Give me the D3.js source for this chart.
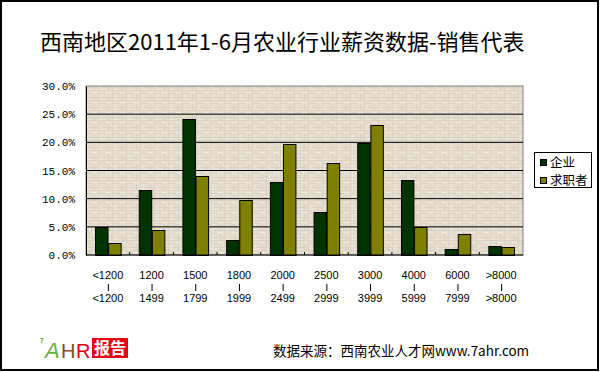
<!DOCTYPE html>
<html>
<head>
<meta charset="utf-8">
<script src="https://cdn.jsdelivr.net/npm/d3@7/dist/d3.min.js"></script>
<style>
  body { margin: 0; background: #fff; }
  svg { display: block; }
</style>
</head>
<body>
<svg id="chart" width="600" height="372"></svg>
<script>
// datos
const categories = ["<1200", "1200", "1500", "1800", "2000", "2500", "3000", "4000", "6000", ">8000"];
const catTop = ["<1200", "1200", "1500", "1800", "2000", "2500", "3000", "4000", "6000", ">8000"];
const catBottom = ["<1200", "1499", "1799", "1999", "2499", "2999", "3999", "5999", "7999", ">8000"];
const seriesNames = ["企业", "求职者"];
const qiye = [5.0, 11.5, 24.1, 2.7, 13.0, 7.6, 19.9, 13.3, 1.0, 1.6];
const qiuzhi = [2.1, 4.4, 14.1, 9.8, 19.7, 16.3, 23.1, 5.0, 3.7, 1.4];
const yTicks = [0, 5, 10, 15, 20, 25, 30];

const colors = { "企业": "#003300", "求职者": "#808000" };
const cjk = "'Noto Sans CJK SC', sans-serif";

const svg = d3.select("#chart");
const plot = { left: 86, right: 523, top: 86, bottom: 255 };

// textura tipo lienzo
const defs = svg.append("defs");
const pat = defs.append("pattern")
  .attr("id", "canvas")
  .attr("width", 14)
  .attr("height", 10)
  .attr("patternUnits", "userSpaceOnUse");
pat.append("rect").attr("width", 14).attr("height", 10).attr("fill", "#e5dece");
[[0, 0, 14, 1, "#dbd3c2"], [0, 3, 8, 1, "#ddd5c4"], [4, 7, 10, 1, "#dad2c0"],
 [0, 1, 1, 9, "#dcd4c3"], [6, 0, 1, 5, "#ded6c5"], [10, 4, 1, 6, "#d9d1bf"],
 [1, 9, 6, 1, "#ede8dd"], [7, 2, 6, 1, "#eee9de"], [3, 4, 1, 3, "#ece7db"]]
  .forEach(([x, y, w, h, c]) => {
    pat.append("rect").attr("x", x).attr("y", y).attr("width", w).attr("height", h).attr("fill", c);
  });

// marco exterior
svg.append("rect")
  .attr("x", 1).attr("y", 1)
  .attr("width", 597).attr("height", 369)
  .attr("fill", "#fff")
  .attr("stroke", "#000")
  .attr("stroke-width", 2);

// titulo
svg.append("text")
  .attr("x", 40)
  .attr("y", 50)
  .attr("font-family", cjk)
  .attr("font-size", 22)
  .attr("fill", "#000")
  .text("西南地区2011年1-6月农业行业薪资数据-销售代表");

const x0 = d3.scaleBand().domain(categories).range([plot.left, plot.right]).padding(0);
const x1 = d3.scaleBand().domain(seriesNames).range([0, x0.bandwidth()])
  .paddingInner(0.05).paddingOuter(0.69);
const y = d3.scaleLinear().domain([0, 30]).range([plot.bottom, plot.top]);

// area del grafico
svg.append("rect")
  .attr("x", plot.left).attr("y", plot.top)
  .attr("width", plot.right - plot.left)
  .attr("height", plot.bottom - plot.top)
  .attr("fill", "url(#canvas)")
  .attr("stroke", "#808080");

// lineas de division
svg.append("g")
  .selectAll("line")
  .data(yTicks.filter(d => d > 0 && d < 30))
  .join("line")
  .attr("x1", plot.left).attr("x2", plot.right)
  .attr("y1", d => y(d)).attr("y2", d => y(d))
  .attr("stroke", "#000");

// barras
const groups = svg.append("g")
  .selectAll("g")
  .data(categories)
  .join("g")
  .attr("transform", d => `translate(${x0(d)},0)`);

groups.selectAll("rect")
  .data((d, i) => [{ s: "企业", v: qiye[i] }, { s: "求职者", v: qiuzhi[i] }])
  .join("rect")
  .attr("x", d => x1(d.s) + 0.5)
  .attr("y", d => Math.round(y(d.v)) + 0.5)
  .attr("width", x1.bandwidth())
  .attr("height", d => plot.bottom - Math.round(y(d.v)))
  .attr("fill", d => colors[d.s])
  .attr("stroke", "#000");

// ejes
const yAxis = d3.axisLeft(y)
  .tickValues(yTicks)
  .tickSize(0)
  .tickPadding(11)
  .tickFormat(d => d3.format(".1f")(d) + "%");

svg.append("g")
  .attr("transform", `translate(${plot.left},0)`)
  .call(yAxis)
  .call(g => g.select(".domain").attr("stroke", "#000"))
  .call(g => g.selectAll("text")
    .attr("font-family", "'Liberation Mono', monospace")
    .attr("font-size", 11)
    .attr("fill", "#000"));

svg.append("g")
  .selectAll("line")
  .data(categories.slice(1))
  .join("line")
  .attr("x1", d => x0(d)).attr("x2", d => x0(d))
  .attr("y1", plot.bottom - 3).attr("y2", plot.bottom)
  .attr("stroke", "#000");

svg.append("line")
  .attr("x1", plot.left).attr("x2", plot.right)
  .attr("y1", plot.bottom).attr("y2", plot.bottom)
  .attr("stroke", "#000");

// etiquetas de categoria en tres lineas
const xLabels = svg.append("g")
  .attr("font-family", "'Liberation Sans', Arial, sans-serif")
  .attr("font-size", 11)
  .attr("text-anchor", "middle")
  .attr("fill", "#000")
  .selectAll("g")
  .data(categories)
  .join("g")
  .attr("transform", d => `translate(${x0(d) + x0.bandwidth() / 2},0)`);

xLabels.append("text").attr("y", 279).text((d, i) => catTop[i]);
xLabels.append("line")
  .attr("x1", 0.5).attr("x2", 0.5)
  .attr("y1", 284).attr("y2", 291)
  .attr("stroke", "#000");
xLabels.append("text").attr("y", 302).text((d, i) => catBottom[i]);

// leyenda
const legend = svg.append("g");
legend.append("rect")
  .attr("x", 534.5).attr("y", 152.5)
  .attr("width", 57).attr("height", 35)
  .attr("fill", "#fff")
  .attr("stroke", "#000");

const items = legend.selectAll("g")
  .data(seriesNames)
  .join("g")
  .attr("transform", (d, i) => `translate(540,${159 + i * 18})`);

items.append("rect")
  .attr("x", 0.5).attr("y", 0.5)
  .attr("width", 6).attr("height", 6)
  .attr("fill", d => colors[d])
  .attr("stroke", "#000");

items.append("text")
  .attr("x", 10)
  .attr("y", 8)
  .attr("font-family", cjk)
  .attr("font-size", 12.5)
  .attr("fill", "#000")
  .text(d => d);

// logotipo
const logo = svg.append("g").attr("font-family", "'Liberation Sans', Arial, sans-serif");
logo.append("text").attr("x", 40).attr("y", 343).attr("font-size", 7)
  .attr("font-weight", "bold").attr("fill", "#6ab23e").text("7");
logo.append("text").attr("x", 45).attr("y", 358).attr("font-size", 22)
  .attr("font-style", "italic").attr("fill", "#6ab23e").text("A");
logo.append("text").attr("x", 61).attr("y", 358).attr("font-size", 20)
  .attr("fill", "#8b4a2a").text("H");
logo.append("text").attr("x", 76).attr("y", 358).attr("font-size", 20)
  .attr("fill", "#e60012").text("R");
logo.append("rect").attr("x", 92).attr("y", 338).attr("width", 36).attr("height", 20)
  .attr("fill", "#e60012");
logo.append("text").attr("x", 110).attr("y", 354).attr("text-anchor", "middle")
  .attr("font-family", cjk).attr("font-size", 16).attr("font-weight", "bold")
  .attr("fill", "#fff").text("报告");

// fuente
svg.append("text")
  .attr("x", 273)
  .attr("y", 356)
  .attr("font-family", cjk)
  .attr("font-size", 13.5)
  .attr("fill", "#000")
  .text("数据来源：西南农业人才网www.7ahr.com");
</script>
</body>
</html>
